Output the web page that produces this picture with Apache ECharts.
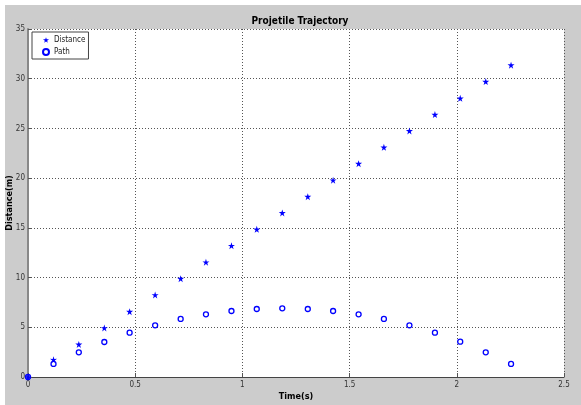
<!DOCTYPE html>
<html>
<head>
<meta charset="utf-8">
<script src="https://cdn.jsdelivr.net/npm/echarts@6/dist/echarts.min.js"></script>
<style>
html,body{margin:0;padding:0;background:#fff;}
#chart{width:581px;height:405px;}
</style>
</head>
<body>
<div id="chart"></div>
<script>
const time = [0, 0.119, 0.237, 0.356, 0.474, 0.593, 0.712, 0.830, 0.949, 1.067, 1.186, 1.305, 1.423, 1.542, 1.660, 1.779, 1.898, 2.016, 2.135, 2.253];
const distance = [0, 1.74, 3.28, 4.93, 6.57, 8.25, 9.89, 11.54, 13.2, 14.85, 16.5, 18.14, 19.79, 21.46, 23.1, 24.75, 26.39, 28.03, 29.71, 31.36];
const pathY = [0, 1.31, 2.48, 3.52, 4.46, 5.2, 5.84, 6.3, 6.64, 6.84, 6.91, 6.84, 6.64, 6.3, 5.84, 5.2, 4.46, 3.55, 2.48, 1.31];
const xTicks = [0, 0.5, 1, 1.5, 2, 2.5];
const yTicks = [0, 5, 10, 15, 20, 25, 30, 35];
const seriesNames = ['Distance', 'Path'];

const FONT = '"Liberation Sans Narrow", "DejaVu Sans Condensed", "Liberation Sans", sans-serif';
const STAR = 'path://M100,0 L122.34,69.26 L195.11,69.1 L136.14,111.74 L158.78,180.9 L100,138 L41.22,180.9 L63.86,111.74 L4.89,69.1 L77.66,69.26 Z';

const chart = echarts.init(document.getElementById('chart'), null, {renderer: 'canvas'});
const gridLine = {show: true, lineStyle: {color: '#555', type: [1, 2], width: 1}};
chart.setOption({
  animation: false,
  backgroundColor: '#ffffff',
  graphic: [{
    type: 'rect', z: -100, silent: true,
    shape: {x: 5, y: 5, width: 576, height: 400},
    style: {fill: '#cccccc'}
  }],
  title: {
    text: 'Projetile Trajectory',
    left: 295, top: 11, textAlign: 'center',
    textStyle: {fontFamily: FONT, fontSize: 10, fontWeight: 'bold', color: '#000'}
  },
  legend: {
    orient: 'vertical',
    left: 32, top: 32,
    data: seriesNames,
    backgroundColor: '#fff',
    borderColor: '#444', borderWidth: 1,
    padding: [4, 3, 3, 10],
    itemWidth: 6, itemHeight: 6, itemGap: 4, itemTextGap: 8,
    textStyle: {fontFamily: FONT, fontSize: 8, color: '#222'}
  },
  grid: {
    left: 28, right: 17, top: 29, bottom: 28,
    containLabel: false, outerBoundsMode: 'none',
    show: true, backgroundColor: '#fff', borderWidth: 0
  },
  xAxis: {
    type: 'value', min: 0, max: 2.5, interval: 0.5,
    name: 'Time(s)', nameLocation: 'middle', nameGap: 15, nameMoveOverlap: false,
    nameTextStyle: {fontFamily: FONT, fontSize: 9, fontWeight: 'bold', color: '#000'},
    axisLine: {show: true, onZero: false, lineStyle: {color: '#444', width: 1}},
    axisTick: {show: true, inside: true, length: 4, lineStyle: {color: '#555'}},
    axisLabel: {
      fontFamily: FONT, fontSize: 8, color: '#333', margin: 4,
      formatter: v => xTicks.includes(v) ? String(v) : ''
    },
    splitLine: gridLine
  },
  yAxis: {
    type: 'value', min: 0, max: 35, interval: 5,
    name: 'Distance(m)', nameLocation: 'middle', nameGap: 14, nameMoveOverlap: false,
    nameTextStyle: {fontFamily: FONT, fontSize: 9, fontWeight: 'bold', color: '#000'},
    axisLine: {show: true, onZero: false, lineStyle: {color: '#888', width: 2}},
    axisTick: {show: true, inside: true, length: 4, lineStyle: {color: '#555'}},
    axisLabel: {
      fontFamily: FONT, fontSize: 8, color: '#333', margin: 3,
      formatter: v => yTicks.includes(v) ? String(v) : ''
    },
    splitLine: gridLine
  },
  series: [{
    name: seriesNames[0], type: 'scatter',
    symbol: STAR, symbolSize: 7,
    itemStyle: {color: '#0000ff', opacity: 1},
    data: time.map((t, i) => [t, distance[i]]),
    z: 3
  }, {
    name: seriesNames[1], type: 'scatter',
    symbol: 'circle', symbolSize: 5,
    itemStyle: {color: 'rgba(255,255,255,0)', borderColor: '#0000ff', borderWidth: 1.3, opacity: 1},
    data: time.map((t, i) => [t, pathY[i]]),
    z: 2
  }]
});
</script>
</body>
</html>
